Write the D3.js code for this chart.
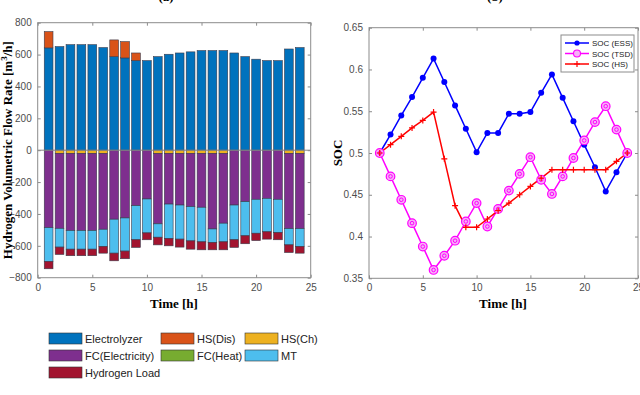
<!DOCTYPE html>
<html>
<head>
<meta charset="utf-8">
<script src="https://cdn.jsdelivr.net/npm/d3@7"></script>
<style>
  body { margin: 0; background: #fff; }
  svg { display: block; }
  .tick text { font-family: "Liberation Sans", Arial, sans-serif; font-size: 10px; fill: #4d4d4d; }
  .axlabel { font-family: "Liberation Serif", "Times New Roman", serif; font-weight: bold; font-size: 13px; fill: #000; }
  .leg { font-family: "Liberation Sans", Arial, sans-serif; font-size: 11px; fill: #222; }
</style>
</head>
<body>
<div id="chart"></div>
<script>
/* global d3 */

// hours 1..24
const hours = d3.range(1, 25);

// hydrogen flow (m3/h), positive side
const electrolyzer = [642, 650, 662, 662, 662, 644, 587, 579, 562, 562, 587, 602,
  610, 617, 625, 625, 625, 610, 587, 571, 562, 562, 635, 644];
const hsDis = [102, 0, 0, 0, 0, 0, 105, 102, 48, 0, 0, 0,
  0, 0, 0, 0, 0, 0, 0, 0, 0, 0, 0, 0];
// negative side (consumption)
const hsCh = [0, 20, 20, 20, 20, 20, 0, 0, 0, 0, 20, 20,
  20, 20, 20, 20, 20, 0, 0, 0, 0, 0, 20, 20];
const fcElec = [486, 470, 484, 484, 484, 476, 433, 425, 348, 306, 442, 318,
  324, 334, 338, 474, 438, 344, 323, 308, 302, 308, 472, 472];
const fcHeat = [0, 0, 0, 0, 0, 0, 0, 0, 0, 0, 0, 0,
  0, 0, 0, 0, 0, 0, 0, 0, 0, 0, 0, 0];
const mt = [212, 118, 117, 117, 117, 108, 213, 208, 214, 213, 84, 216,
  214, 215, 217, 85, 117, 218, 214, 213, 210, 209, 102, 112];
const h2Load = [46, 46, 41, 41, 41, 42, 48, 48, 48, 43, 48, 46,
  50, 52, 50, 46, 50, 48, 50, 46, 46, 45, 48, 42];

const barNames = ['Electrolyzer', 'HS(Dis)', 'HS(Ch)', 'FC(Electricity)', 'FC(Heat)', 'MT', 'Hydrogen Load'];
const barColors = ['#0072BD', '#D95319', '#EDB120', '#7E2F8E', '#77AC30', '#4DBEEE', '#A2142F'];

// state of charge
const socEss = [0.5, 0.522, 0.545, 0.567, 0.59, 0.613, 0.585, 0.557, 0.529, 0.501, 0.524, 0.524,
  0.547, 0.547, 0.549, 0.572, 0.594, 0.566, 0.538, 0.51, 0.483, 0.454, 0.477, 0.5];
const socTsd = [0.5, 0.472, 0.444, 0.416, 0.388, 0.36, 0.377, 0.395, 0.418, 0.44, 0.412, 0.433,
  0.455, 0.475, 0.495, 0.468, 0.451, 0.472, 0.494, 0.515, 0.537, 0.556, 0.528, 0.5];
const socHs = [0.5, 0.51, 0.52, 0.53, 0.539, 0.549, 0.493, 0.437, 0.411, 0.411, 0.421, 0.431,
  0.44, 0.45, 0.46, 0.47, 0.48, 0.48, 0.48, 0.48, 0.48, 0.48, 0.49, 0.5];

const socNames = ['SOC (ESS)', 'SOC (TSD)', 'SOC (HS)'];
const socColors = ['#0000ff', '#ff00ff', '#ff0000'];

const xTicks = [0, 5, 10, 15, 20, 25];
const flowTicks = [-800, -600, -400, -200, 0, 200, 400, 600, 800];
const socTicks = [0.35, 0.4, 0.45, 0.5, 0.55, 0.6, 0.65];

const svg = d3.select('#chart').append('svg')
  .attr('width', 640)
  .attr('height', 395);

// draws a matlab style box with inward ticks on all four sides
const drawBox = (g, x, y, xt, yt, yFmt) => {
  const [x0, x1] = x.range();
  const [y0, y1] = y.range();
  const w = x1 - x0;
  const h = y0 - y1;

  g.append('g')
    .attr('transform', `translate(0,${y0})`)
    .call(d3.axisBottom(x).tickValues(xt).tickSizeInner(-3).tickSizeOuter(0).tickPadding(6));
  g.append('g')
    .attr('transform', `translate(0,${y1})`)
    .call(d3.axisTop(x).tickValues(xt).tickSizeInner(-3).tickSizeOuter(0).tickFormat(''));
  g.append('g')
    .attr('transform', `translate(${x0},0)`)
    .call(d3.axisLeft(y).tickValues(yt).tickSizeInner(-3).tickSizeOuter(0).tickPadding(6).tickFormat(yFmt));
  g.append('g')
    .attr('transform', `translate(${x1},0)`)
    .call(d3.axisRight(y).tickValues(yt).tickSizeInner(-3).tickSizeOuter(0).tickFormat(''));

  g.selectAll('.domain').remove();
  g.selectAll('.tick line').attr('stroke', '#8c8c8c');
  g.append('rect')
    .attr('x', x0).attr('y', y1)
    .attr('width', w).attr('height', h)
    .attr('fill', 'none')
    .attr('stroke', '#8c8c8c')
    .attr('stroke-width', 1);
};

/* +++ left: stacked bars +++ */
const drawBars = () => {
  const x = d3.scaleLinear().domain([0, 25]).range([37.7, 310.7]);
  const y = d3.scaleLinear().domain([-800, 800]).range([277.7, 22.7]);
  const g = svg.append('g');

  const series = [electrolyzer, hsDis, hsCh.map(v => -v), fcElec.map(v => -v),
    fcHeat.map(v => -v), mt.map(v => -v), h2Load.map(v => -v)];
  const table = hours.map((hr, i) => {
    const row = { hour: hr };
    barNames.forEach((n, k) => { row[n] = series[k][i]; });
    return row;
  });

  const stacked = d3.stack()
    .keys(barNames)
    .offset(d3.stackOffsetDiverging)(table);

  const bw = x(0.8) - x(0);

  g.selectAll('.layer')
    .data(stacked)
    .enter()
    .append('g')
    .attr('fill', (d, k) => barColors[k])
    .selectAll('rect')
    .data(d => d.filter(s => s[1] !== s[0]))
    .enter()
    .append('rect')
    .attr('x', d => x(d.data.hour) - bw / 2)
    .attr('width', bw)
    .attr('y', d => y(Math.max(d[0], d[1])))
    .attr('height', d => Math.abs(y(d[0]) - y(d[1])))
    .attr('stroke', '#3a3a4a')
    .attr('stroke-width', 0.6);

  // baseline
  g.append('line')
    .attr('x1', x(0)).attr('x2', x(25))
    .attr('y1', y(0)).attr('y2', y(0))
    .attr('stroke', '#8c8c8c');

  drawBox(g, x, y, xTicks, flowTicks, d3.format('d'));

  g.append('text')
    .attr('class', 'axlabel')
    .attr('transform', `translate(12,${y(0)}) rotate(-90)`)
    .attr('text-anchor', 'middle')
    .html('Hydrogen Volumetric Flow Rate [m<tspan dy="-5" font-size="9">3</tspan><tspan dy="5">/h]</tspan>');

  g.append('text')
    .attr('class', 'axlabel')
    .attr('x', 174).attr('y', 308)
    .attr('text-anchor', 'middle')
    .text('Time [h]');

  // panel tag, mostly above the top edge like in the source
  g.append('text')
    .attr('class', 'axlabel')
    .attr('x', 166).attr('y', 0.5)
    .attr('text-anchor', 'middle')
    .attr('font-weight', 'normal')
    .attr('fill', '#555')
    .text('(a)');

  // legend under the bars
  const cols = [49, 161, 245];
  const rows = [338.5, 355.5, 372.5];
  const leg = g.selectAll('.legitem')
    .data(barNames)
    .enter()
    .append('g')
    .attr('transform', (d, k) => `translate(${cols[k % 3]},${rows[Math.floor(k / 3)]})`);
  leg.append('rect')
    .attr('x', 0).attr('y', -5.5)
    .attr('width', 33).attr('height', 11)
    .attr('fill', (d, k) => barColors[k])
    .attr('stroke', '#333')
    .attr('stroke-width', 0.6);
  leg.append('text')
    .attr('class', 'leg')
    .attr('x', 36).attr('y', 4)
    .text(d => d);
};

/* +++ right: soc lines +++ */
const drawSoc = () => {
  const x = d3.scaleLinear().domain([0, 25]).range([369, 638]);
  const y = d3.scaleLinear().domain([0.35, 0.65]).range([278.3, 27.7]);
  const g = svg.append('g');

  drawBox(g, x, y, xTicks, socTicks, d => d3.format('.2~f')(d));

  const line = d3.line()
    .x((d, i) => x(hours[i]))
    .y(d => y(d));

  const all = [socEss, socTsd, socHs];
  all.forEach((s, k) => {
    g.append('path')
      .attr('d', line(s))
      .attr('fill', 'none')
      .attr('stroke', socColors[k])
      .attr('stroke-width', 1.5);
  });

  // ESS markers: filled dots
  g.selectAll('.essdot')
    .data(socEss)
    .enter()
    .append('circle')
    .attr('cx', (d, i) => x(hours[i]))
    .attr('cy', d => y(d))
    .attr('r', 3)
    .attr('fill', socColors[0]);

  // TSD markers: double rings
  const tsd = g.selectAll('.tsd')
    .data(socTsd)
    .enter()
    .append('g')
    .attr('transform', (d, i) => `translate(${x(hours[i])},${y(d)})`);
  tsd.append('circle').attr('r', 4.3).attr('fill', '#f7b0f7').attr('stroke', socColors[1]).attr('stroke-width', 1.2);
  tsd.append('circle').attr('r', 1.8).attr('fill', 'none').attr('stroke', socColors[1]).attr('stroke-width', 1);

  // HS markers: plus signs
  g.selectAll('.hsplus')
    .data(socHs)
    .enter()
    .append('path')
    .attr('transform', (d, i) => `translate(${x(hours[i])},${y(d)})`)
    .attr('d', 'M-3,0H3M0,-3V3')
    .attr('stroke', socColors[2])
    .attr('stroke-width', 1.2);

  g.append('text')
    .attr('class', 'axlabel')
    .attr('transform', `translate(342,${(y.range()[0] + y.range()[1]) / 2}) rotate(-90)`)
    .attr('text-anchor', 'middle')
    .text('SOC');

  g.append('text')
    .attr('class', 'axlabel')
    .attr('x', 503).attr('y', 308)
    .attr('text-anchor', 'middle')
    .text('Time [h]');

  g.append('text')
    .attr('class', 'axlabel')
    .attr('x', 495).attr('y', 0.5)
    .attr('text-anchor', 'middle')
    .attr('font-weight', 'normal')
    .attr('fill', '#555')
    .text('(b)');

  // legend box
  const lg = g.append('g');
  lg.append('rect')
    .attr('x', 561).attr('y', 35)
    .attr('width', 73).attr('height', 37)
    .attr('fill', '#fff')
    .attr('stroke', '#8c8c8c');
  const ly = [43, 53.5, 64];
  socNames.forEach((n, k) => {
    lg.append('line')
      .attr('x1', 565).attr('x2', 589)
      .attr('y1', ly[k]).attr('y2', ly[k])
      .attr('stroke', socColors[k])
      .attr('stroke-width', 1.5);
    if (k === 0) {
      lg.append('circle').attr('cx', 577).attr('cy', ly[k]).attr('r', 2.6).attr('fill', socColors[k]);
    } else if (k === 1) {
      lg.append('circle').attr('cx', 577).attr('cy', ly[k]).attr('r', 3.5)
        .attr('fill', '#f7b0f7').attr('stroke', socColors[k]).attr('stroke-width', 1.1);
    } else {
      lg.append('path').attr('d', `M574,${ly[k]}H580M577,${ly[k] - 3}V${ly[k] + 3}`)
        .attr('stroke', socColors[k]).attr('stroke-width', 1.2);
    }
    lg.append('text')
      .attr('class', 'leg')
      .attr('x', 592).attr('y', ly[k] + 3)
      .style('font-size', '8px')
      .text(n);
  });
};

drawBars();
drawSoc();
</script>
</body>
</html>
